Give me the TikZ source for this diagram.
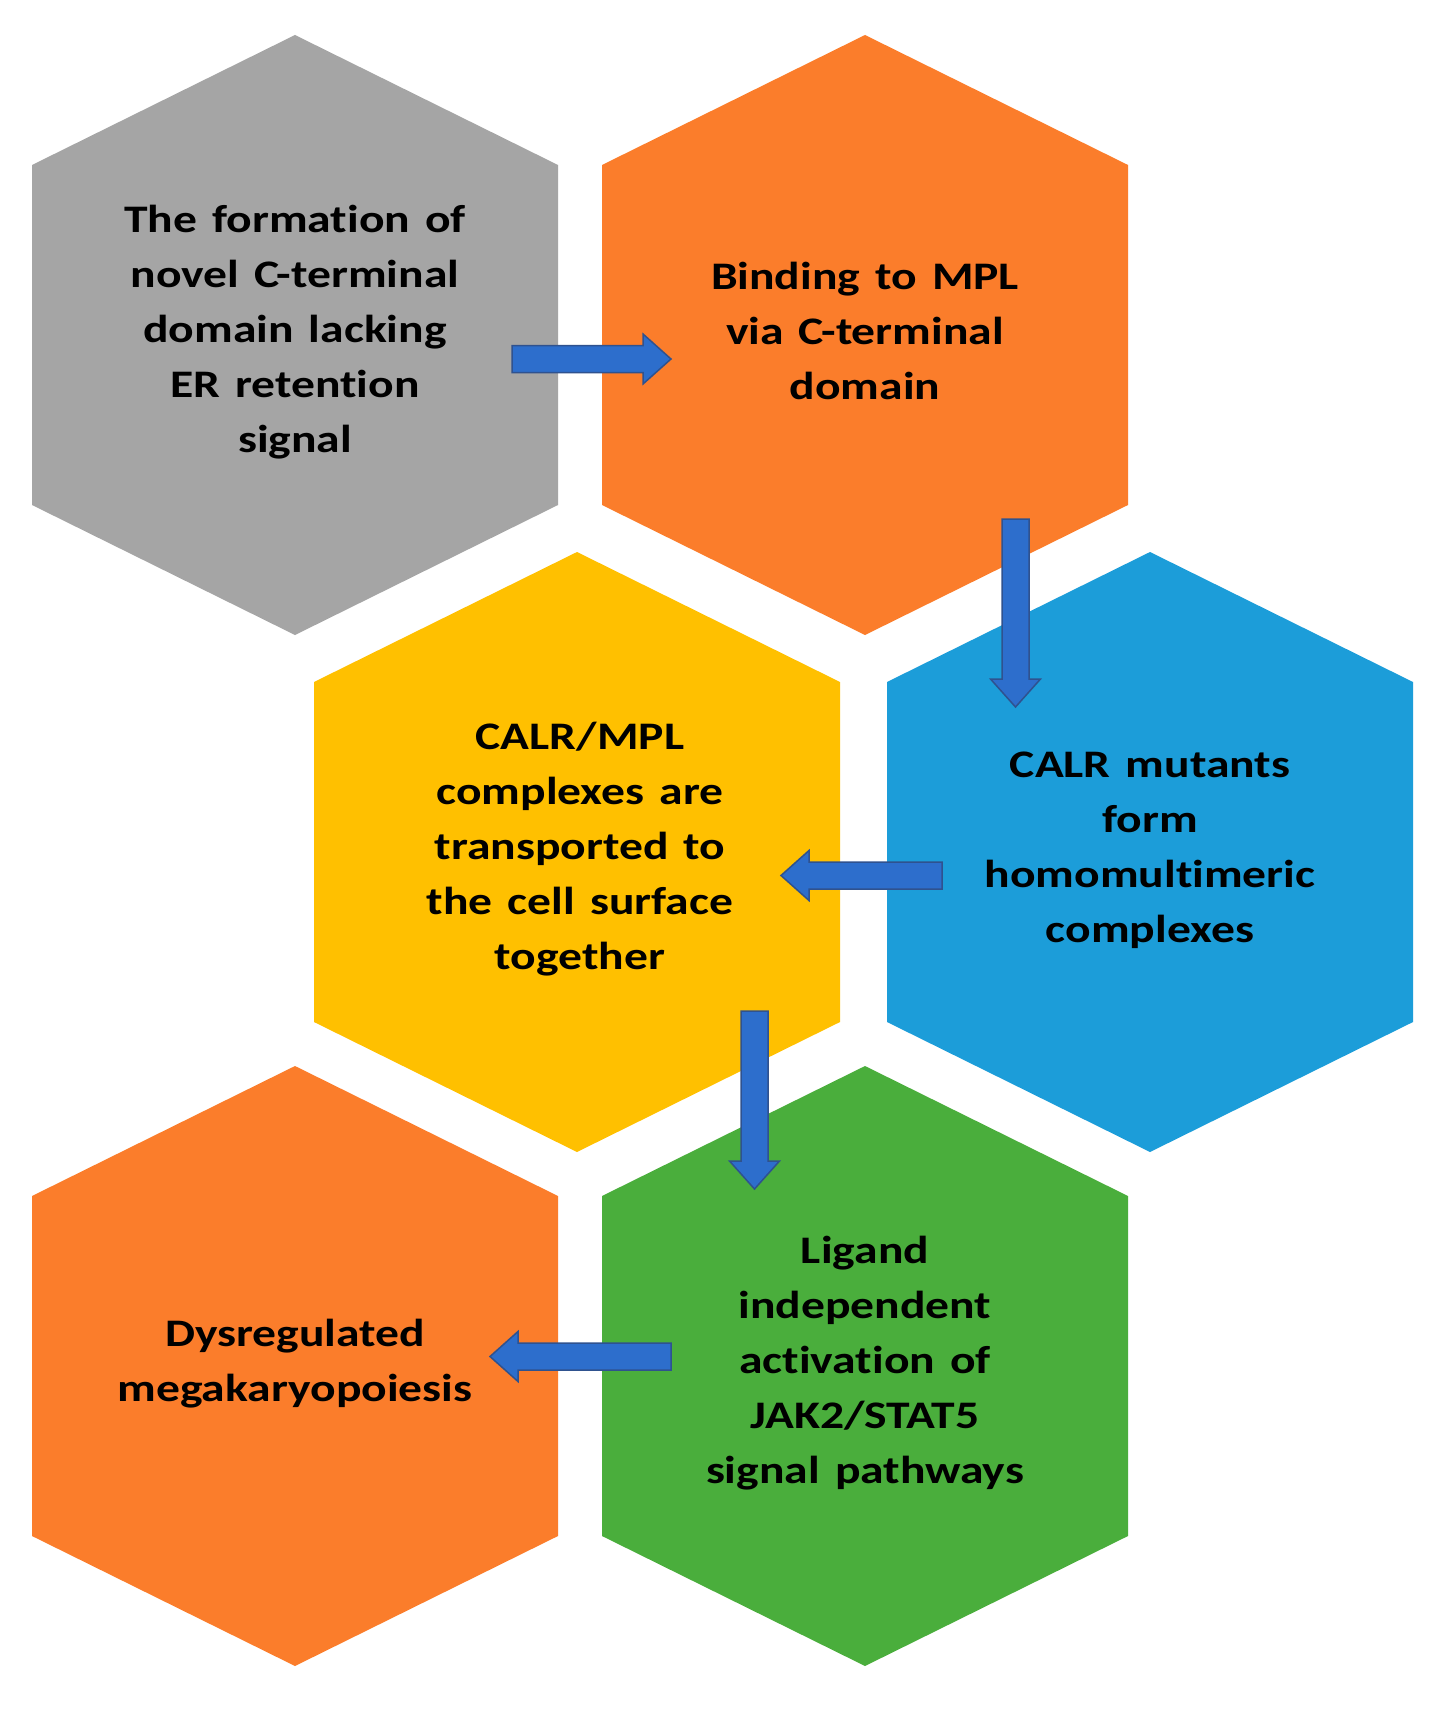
\documentclass[tikz,border=0pt]{standalone}
\usepackage{fontspec}
\newfontfamily\hexfont{Carlito}[FakeStretch=1.22,WordSpace=1.4,Ligatures={NoCommon}]
\usetikzlibrary{calc}
\definecolor{hgray}{HTML}{A5A5A5}
\definecolor{horange}{HTML}{FB7D2B}
\definecolor{hyellow}{HTML}{FFC000}
\definecolor{hblue}{HTML}{1C9DD9}
\definecolor{hgreen}{HTML}{4AAE3C}
\definecolor{arrowblue}{HTML}{2D6ECC}
\definecolor{arrowedge}{HTML}{2F528F}
\tikzset{
  hextext/.style={font=\hexfont\bfseries\fontsize{39}{55}\selectfont, align=center, text=black, inner sep=0pt},
  blockarr/.style={fill=arrowblue, draw=arrowedge, line width=1.5pt, line join=miter}
}
\newcommand{\hexagon}[3]{%
  \fill[#3] (#1,{#2-300}) -- ({#1+263},{#2-170}) -- ({#1+263},{#2+170}) -- (#1,{#2+300})
     -- ({#1-263},{#2+170}) -- ({#1-263},{#2-170}) -- cycle;}
\newcommand{\blockarrow}[2]{%
  \coordinate (#1-hb) at ($(#2)!28pt!(#1)$);
  \draw[blockarr] ($(#1)!13.5pt!90:(#2)$) -- ($(#1-hb)!13.5pt!-90:(#1)$) -- ($(#1-hb)!25pt!-90:(#1)$)
     -- (#2) -- ($(#1-hb)!25pt!90:(#1)$) -- ($(#1-hb)!13.5pt!90:(#1)$) -- ($(#1)!13.5pt!-90:(#2)$) -- cycle;}
\begin{document}
\begin{tikzpicture}[x=1pt,y=-1pt]
\useasboundingbox (0,0) rectangle (1445,1715);
\fill[white] (0,0) rectangle (1445,1715);
% hexagons
\hexagon{295}{335}{hgray}
\hexagon{865}{335}{horange}
\hexagon{577}{852}{hyellow}
\hexagon{1150}{852}{hblue}
\hexagon{295}{1366}{horange}
\hexagon{865}{1366}{hgreen}
% texts
\node[hextext] (t1) at (295,332) {The formation of\\novel C-terminal\\domain lacking\\ER retention\\signal};
\node[hextext] (t2) at (865,331) {Binding to MPL\\via C-terminal\\domain};
\node[hextext] (t3) at (580,849) {CALR/MPL\\complexes are\\transported to\\the cell surface\\together};
\node[hextext] (t4) at (1150,850) {CALR mutants\\form\\homomultimeric\\complexes};
\node[hextext] (t5) at (865,1363) {Ligand\\independent\\activation of\\JAK2/STAT5\\signal pathways};
\node[hextext] (t6) at (295,1364) {Dysregulated\\megakaryopoiesis};
% arrow ends
\coordinate (a1s) at (512,359);    \coordinate (a1e) at (671,359);
\coordinate (a2s) at (1015.5,519); \coordinate (a2e) at (1015.5,707);
\coordinate (a3s) at (942,875.5);  \coordinate (a3e) at (781,875.5);
\coordinate (a4s) at (754.5,1011); \coordinate (a4e) at (754.5,1189);
\coordinate (a5s) at (671,1356.5); \coordinate (a5e) at (490,1356.5);
\blockarrow{a1s}{a1e}
\blockarrow{a2s}{a2e}
\blockarrow{a3s}{a3e}
\blockarrow{a4s}{a4e}
\blockarrow{a5s}{a5e}
\end{tikzpicture}
\end{document}
